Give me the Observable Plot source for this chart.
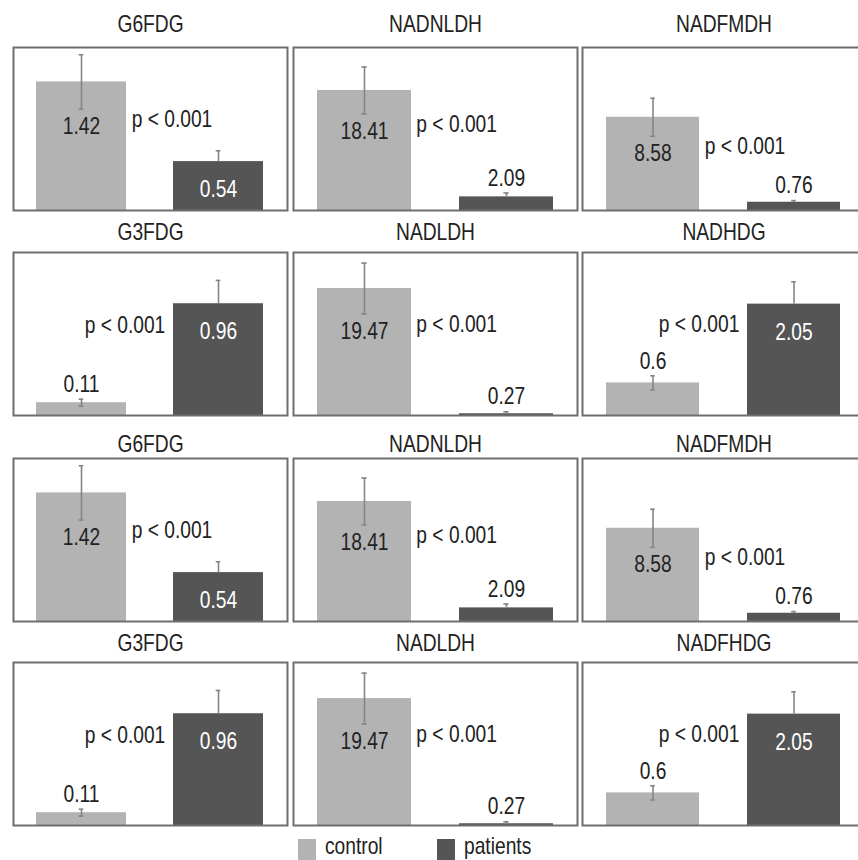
<!DOCTYPE html>
<html><head><meta charset="utf-8">
<script src="https://cdn.jsdelivr.net/npm/d3@7"></script>
<script src="https://cdn.jsdelivr.net/npm/@observablehq/plot@0.6"></script>
<style>
html,body{margin:0;padding:0;background:#fff;overflow:hidden;}
#wrap{position:relative;width:858px;height:860px;overflow:hidden;font-family:'Liberation Sans',Arial,sans-serif;}
.panel{position:absolute;}
#legend{position:absolute;top:835px;left:0;width:858px;height:25px;font-size:24px;color:#222;}
.item{position:absolute;top:0;height:25px;}
.sw{position:absolute;left:0;top:4px;width:18px;height:21px;}
.lab{position:absolute;left:27px;top:0;line-height:22px;white-space:nowrap;transform:scaleX(0.8);transform-origin:left center;}
</style></head><body><div id="wrap"><div id="legend"></div></div>
<script>
// ---- data ----
const titles = ["G6FDG","NADNLDH","NADFMDH","G3FDG","NADLDH","NADHDG","G6FDG","NADNLDH","NADFMDH","G3FDG","NADLDH","NADFHDG"];
const groups = ["control","patients"];
const controlValues = [1.42,18.41,8.58,0.11,19.47,0.6,1.42,18.41,8.58,0.11,19.47,0.6];
const patientValues = [0.54,2.09,0.76,0.96,0.27,2.05,0.54,2.09,0.76,0.96,0.27,2.05];
const controlErrors = [0.30,3.6,1.75,0.03,3.9,0.13,0.30,3.6,1.75,0.03,3.9,0.13];
const patientErrors = [0.12,0.6,0.15,0.2,0.3,0.41,0.12,0.6,0.15,0.2,0.3,0.41];
const axisMax = [1.8,25,15,1.4,25,3,1.8,25,15,1.4,25,3];
const pLabels = ["p < 0.001","p < 0.001","p < 0.001","p < 0.001","p < 0.001","p < 0.001","p < 0.001","p < 0.001","p < 0.001","p < 0.001","p < 0.001","p < 0.001"];

// ---- style / layout ----
const FONT = "'Liberation Sans',Arial,sans-serif";
const FS = 24, SX = 0.8;
const colors = ["#b3b3b3","#555555"];
const colX = [13,293,582], colW = [274,284,283];
const rowTop = [47,252,458,662], boxH = 163;
const titleOffset = [-23.5,-20,-14.5,-19];
const PI = 0.34, PO = 0.17, MT = 41;
const WH = "#858585";

// horizontally condense text glyphs (the reference uses a narrow face)
function condense(svg) {
  svg.querySelectorAll("text").forEach(t => {
    const tr = t.getAttribute("transform") || "";
    t.setAttribute("transform", (tr + ` scale(${SX},1)`).trim());
  });
}

const wrap = document.getElementById("wrap");
titles.forEach((title, i) => {
  const r = Math.floor(i / 3), c = i % 3;
  const W = colW[c];
  const max = axisMax[i];
  const data = [
    {group: "control", value: controlValues[i], err: controlErrors[i]},
    {group: "patients", value: patientValues[i], err: patientErrors[i]}
  ];
  const bw = W / (2 - PI + 2 * PO) * (1 - PI);
  const inside = d => d.value / max > 0.25;
  const big = data[0].value >= data[1].value ? data[0] : data[1];
  const dec = big.group === "control";
  const plot = Plot.plot({
    width: W + 2, height: boxH + MT + 1,
    marginTop: MT, marginBottom: 1, marginLeft: 1, marginRight: 1,
    x: {domain: groups, paddingInner: PI, paddingOuter: PO, axis: null},
    y: {domain: [0, max], axis: null},
    color: {domain: groups, range: colors},
    style: {fontFamily: FONT, background: "transparent", overflow: "visible"},
    marks: [
      Plot.barY(data, {x: "group", y: "value", fill: "group"}),
      Plot.ruleX(data, {x: "group", y1: d => d.group === "control" ? d.value - d.err : d.value, y2: d => d.value + d.err, stroke: WH, strokeWidth: 1.6}),
      Plot.tickY(data, {x: "group", y: d => d.value + d.err, stroke: WH, strokeWidth: 1.6, insetLeft: bw / 2 - 2.5, insetRight: bw / 2 - 2.5}),
      Plot.tickY(data.filter(d => d.group === "control"), {x: "group", y: d => d.value - d.err, stroke: WH, strokeWidth: 1.6, insetLeft: bw / 2 - 2.5, insetRight: bw / 2 - 2.5}),
      Plot.frame({stroke: "#6e6e6e", strokeWidth: 2}),
      Plot.text([title], {frameAnchor: "top", dy: titleOffset[r], lineAnchor: "middle", fontSize: FS, fill: "#222"}),
      Plot.text(data.filter(d => inside(d) && d.group === "control"), {x: "group", y: d => d.value - d.err, text: d => String(d.value), dy: 17, lineAnchor: "middle", fontSize: FS, fill: "#222"}),
      Plot.text(data.filter(d => inside(d) && d.group === "patients"), {x: "group", y: "value", text: d => String(d.value), dy: 28, lineAnchor: "middle", fontSize: FS, fill: "#ffffff"}),
      Plot.text(data.filter(d => !inside(d)), {x: "group", y: d => d.value + d.err, text: d => String(d.value), dy: -15, lineAnchor: "middle", fontSize: FS, fill: "#222"}),
      Plot.text([pLabels[i]], {x: () => big.group, y: () => big.value - big.err, text: d => d,
        textAnchor: dec ? "start" : "end", dx: dec ? bw / 2 + 5 : -(bw / 2 + 8), dy: dec ? 10 : -2,
        lineAnchor: "middle", fontSize: FS, fill: "#222"})
    ]
  });
  condense(plot);
  plot.classList.add("panel");
  plot.style.left = (colX[c] - 1) + "px";
  plot.style.top = (rowTop[r] - MT) + "px";
  wrap.appendChild(plot);
});

// ---- legend ----
const legend = document.getElementById("legend");
const legendX = [298, 437];
groups.forEach((g, k) => {
  const it = document.createElement("div");
  it.className = "item";
  it.style.left = legendX[k] + "px";
  it.innerHTML = `<span class="sw" style="background:${colors[k]}"></span><span class="lab">${g}</span>`;
  legend.appendChild(it);
});
</script>
</body></html>
